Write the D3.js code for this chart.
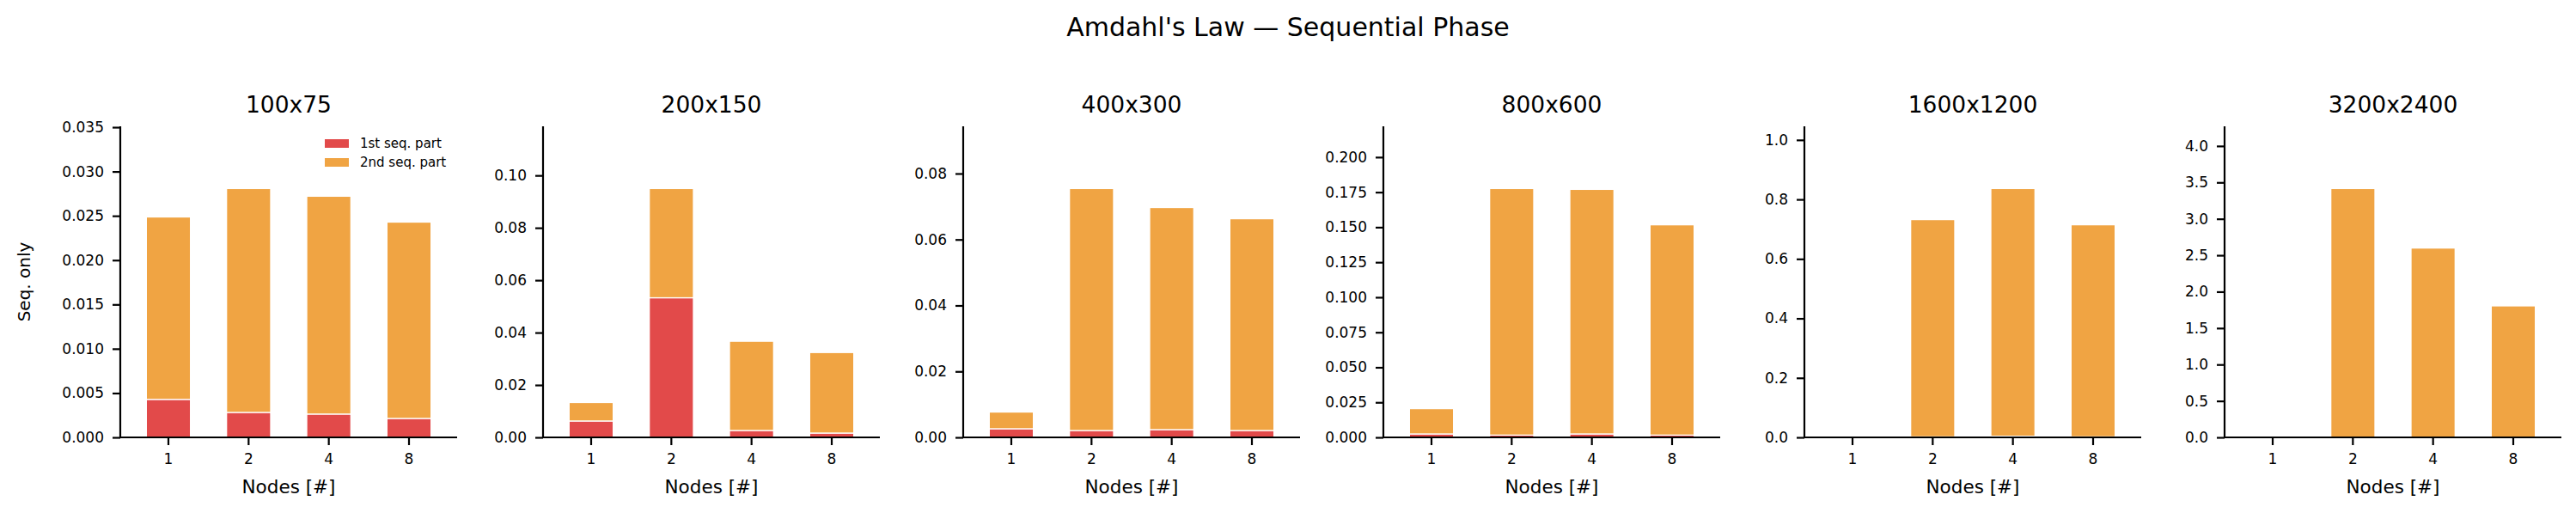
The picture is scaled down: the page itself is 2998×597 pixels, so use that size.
<!DOCTYPE html>
<html>
<head>
<meta charset="utf-8">
<script src="https://cdn.jsdelivr.net/npm/d3@7"></script>
<style>
	body { margin: 0; background: #fff; }
	svg { display: block; font-family: "DejaVu Sans", sans-serif; }
	.axis path, .axis line { stroke: #000; stroke-width: 2.2; }
	.axis text { font-size: 17px; fill: #000; }
</style>
</head>
<body>
<div class="chart"></div>
<script>
// DATA
var sizes = ["100x75", "200x150", "400x300", "800x600", "1600x1200", "3200x2400"];
var nodes = ["1", "2", "4", "8"];
var seriesNames = ["1st seq. part", "2nd seq. part"];

// 1st sequential part, one row per size
var firstSeq = [
	[0.00429, 0.00282, 0.00263, 0.00214],
	[0.00626, 0.0533, 0.00264, 0.00165],
	[0.00262, 0.00209, 0.00236, 0.00209],
	[0.00246, 0.00164, 0.00246, 0.00164],
	[null, 0.002, 0.004, 0.002],
	[null, 0.003, 0.003, 0.003]
];

// 2nd sequential part, stacked on top
var secondSeq = [
	[0.02058, 0.02526, 0.02458, 0.02215],
	[0.00704, 0.0417, 0.03406, 0.03075],
	[0.00506, 0.07337, 0.06734, 0.06421],
	[0.01804, 0.17596, 0.17454, 0.15006],
	[null, 0.7301, 0.8326, 0.7127],
	[null, 3.413, 2.596, 1.802]
];

var yTicks = [
	[0, 0.005, 0.010, 0.015, 0.020, 0.025, 0.030, 0.035],
	[0, 0.02, 0.04, 0.06, 0.08, 0.10],
	[0, 0.02, 0.04, 0.06, 0.08],
	[0, 0.025, 0.05, 0.075, 0.1, 0.125, 0.15, 0.175, 0.2],
	[0, 0.2, 0.4, 0.6, 0.8, 1.0],
	[0, 0.5, 1.0, 1.5, 2.0, 2.5, 3.0, 3.5, 4.0]
];
var yFormats = [".3f", ".2f", ".2f", ".3f", ".1f", ".1f"];

// LAYOUT
var W = 2998, H = 597;
var panelLeft = [140, 632, 1121, 1610, 2100, 2589];
var panelWidth = 392;
var top_y = 147, bottom_y = 509;
var colors = ["#E24A4A", "#F0A443"];

var svg = d3.select(".chart")
	.append("svg")
	.attr("width", W)
	.attr("height", H);

svg.append("text")
	.attr("x", W / 2)
	.attr("y", 42)
	.attr("text-anchor", "middle")
	.style("font-size", "30px")
	.text("Amdahl's Law \u2014 Sequential Phase");

sizes.forEach(function(size, p) {
	var g = svg.append("g")
		.attr("transform", "translate(" + panelLeft[p] + "," + top_y + ")");
	var h = bottom_y - top_y;

	var x = d3.scaleBand()
		.domain(nodes)
		.range([0, panelWidth])
		.paddingInner(0)
		.paddingOuter(0.1);

	var totals = nodes.map(function(d, i) {
		return (firstSeq[p][i] || 0) + (secondSeq[p][i] || 0);
	});
	var y = d3.scaleLinear()
		.domain([0, d3.max(totals) * 1.25])
		.range([h, 0]);

	var barW = x.step() * 0.55;

	// stacked bars
	var rows = nodes.map(function(n, i) {
		return { node: n, a: firstSeq[p][i], b: secondSeq[p][i] };
	}).filter(function(d) { return d.a != null; });

	var stack = d3.stack().keys(["a", "b"])(rows);

	g.selectAll(".layer")
		.data(stack)
		.enter().append("g")
			.attr("fill", function(d, i) { return colors[i]; })
		.selectAll("rect")
		.data(function(d) { return d; })
		.enter().append("rect")
			.attr("x", function(d) { return x(d.data.node) + (x.step() - barW) / 2; })
			.attr("y", function(d) { return y(d[1]); })
			.attr("width", barW)
			.attr("height", function(d) { return y(d[0]) - y(d[1]); })
			.attr("stroke", "#fff")
			.attr("stroke-width", 1.3);

	// axes
	g.append("g")
		.attr("class", "axis")
		.attr("transform", "translate(0," + h + ")")
		.call(d3.axisBottom(x).tickSize(9).tickPadding(10).tickSizeOuter(0))
		.call(function(s) { s.select(".domain").attr("d", "M0,0H" + panelWidth); });

	g.append("g")
		.attr("class", "axis")
		.call(d3.axisLeft(y).tickValues(yTicks[p]).tickFormat(d3.format(yFormats[p]))
			.tickSize(9).tickPadding(10).tickSizeOuter(0))
		.call(function(s) { s.select(".domain").attr("d", "M0," + h + "V0"); });

	g.selectAll(".axis text").attr("font-family", "DejaVu Sans");

	// titles
	g.append("text")
		.attr("x", panelWidth / 2)
		.attr("y", -16)
		.attr("text-anchor", "middle")
		.style("font-size", "26.5px")
		.text(size);

	g.append("text")
		.attr("x", panelWidth / 2)
		.attr("y", h + 65)
		.attr("text-anchor", "middle")
		.style("font-size", "21.5px")
		.text("Nodes [#]");

	if (p == 0) {
		g.append("text")
			.attr("transform", "translate(" + (35 - panelLeft[0]) + "," + (328 - top_y) + ") rotate(-90)")
			.attr("text-anchor", "middle")
			.style("font-size", "20px")
			.text("Seq. only");

		var legend = g.append("g")
			.attr("transform", "translate(" + (378 - panelLeft[0]) + "," + (162 - top_y) + ")");
		seriesNames.forEach(function(name, i) {
			legend.append("rect")
				.attr("x", 0)
				.attr("y", i * 22)
				.attr("width", 28)
				.attr("height", 10)
				.attr("fill", colors[i]);
			legend.append("text")
				.attr("x", 41)
				.attr("y", i * 22 + 5)
				.attr("dy", "0.35em")
				.style("font-size", "15px")
				.text(name);
		});
	}
});
</script>
</body>
</html>
